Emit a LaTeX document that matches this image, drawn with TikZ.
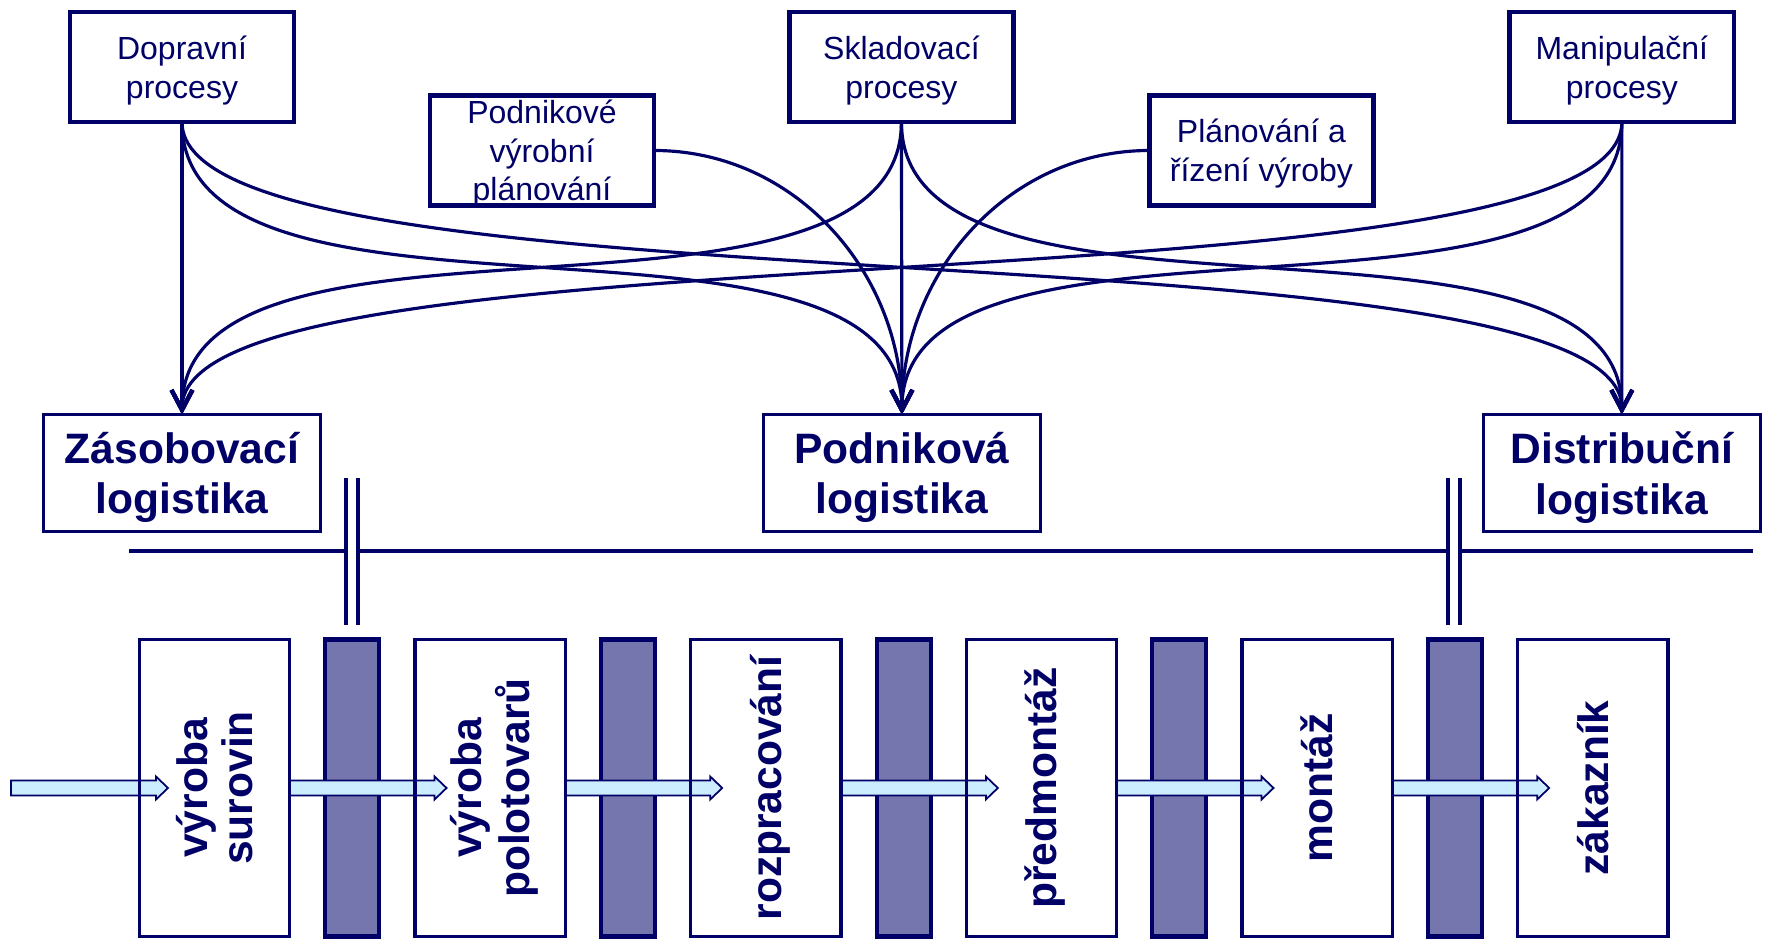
\documentclass[tikz,border=0pt]{standalone}
\usepackage{fontspec}
\setmainfont{Liberation Sans}
\usetikzlibrary{positioning,arrows.meta,backgrounds}
\definecolor{navy}{RGB}{0,0,102}
\definecolor{flowblue}{RGB}{204,236,255}
\definecolor{stockgrey}{RGB}{118,118,174}
\newcommand{\vlabel}[1]{\rotatebox{90}{\raisebox{0pt}[\dimexpr\height+3.6pt\relax][\depth]{\begin{tabular}{@{}c@{}}#1\end{tabular}}}}
\newcommand{\bandarrow}[1]{\draw[bandarrow] (#1) ++(0,-7.5) -- ++(145,0) -- ++(0,-4) -- ++(12,11.5) -- ++(-12,11.5) -- ++(0,-4) -- ++(-145,0) -- cycle;}

\begin{document}
\begin{tikzpicture}[x=0.01cm,y=-0.01cm,
    topbox/.style={draw=navy,line width=1.35pt,minimum width=2.24cm,minimum height=1.10cm,inner sep=0pt,outer sep=0pt,align=center,text=navy,text depth=0pt,font=\fontsize{9.1}{11}\selectfont},
    logbox/.style={draw=navy,line width=1pt,minimum width=2.77cm,minimum height=1.17cm,inner sep=0pt,outer sep=0pt,align=center,text=navy,text depth=0pt,font=\fontsize{12.1}{14.4}\selectfont\bfseries},
    stagebox/.style={draw=navy,line width=0.95pt,minimum width=1.50cm,minimum height=2.97cm,inner sep=0pt,outer sep=0pt,text=navy,font=\fontsize{12.1}{12.8}\selectfont\bfseries},
    stockbox/.style={draw=navy,fill=stockgrey,line width=1.2pt,minimum width=0.54cm,minimum height=2.97cm,inner sep=0pt,outer sep=0pt},
    flow/.style={navy,line width=0.9pt,-{Straight Barb[length=2mm,width=2.1mm,line width=1.2pt]}},
    sepline/.style={navy,line width=1pt},
    bandarrow/.style={draw=navy,fill=flowblue,line width=0.5pt}]
        \useasboundingbox (0,0) rectangle (1770,940);
        % procesy
        \node[topbox] (dop) at (182,67) {Dopravní\\procesy};
        \node[topbox,right=4.95cm of dop] (skl) {Skladovací\\procesy};
        \node[topbox,right=4.96cm of skl] (man) {Manipulační\\procesy};
        \node[topbox] (pvp) at (542,150.5) {Podnikové\\výrobní\\plánování};
        \node[topbox,right=4.95cm of pvp] (prv) {Plánování a\\řízení výroby};
        % logistika
        \node[logbox] (zas) at (182,473) {Zásobovací\\logistika};
        \node[logbox,right=4.425cm of zas] (pod) {Podniková\\logistika};
        \node[logbox,right=4.425cm of pod] (dis) {Distribuční\\logistika};
        \draw[flow] (dop.south) -- (zas.north);
        \draw[flow] (dop.south) .. controls +(0,240) and +(0,-240) .. (pod.north);
        \draw[flow] (dop.south) .. controls +(0,200) and +(0,-200) .. (dis.north);
        \draw[flow] (skl.south) .. controls +(0,240) and +(0,-240) .. (zas.north);
        \draw[flow] (skl.south) -- (pod.north);
        \draw[flow] (skl.south) .. controls +(0,240) and +(0,-240) .. (dis.north);
        \draw[flow] (man.south) .. controls +(0,200) and +(0,-200) .. (zas.north);
        \draw[flow] (man.south) .. controls +(0,240) and +(0,-240) .. (pod.north);
        \draw[flow] (man.south) -- (dis.north);
        \draw[flow] (pvp.east) to[out=0,in=90] (pod.north);
        \draw[flow] (prv.west) to[out=180,in=90] (pod.north);
        % hranice
        \draw[sepline] (129,551) -- (346,551) (358,551) -- (1448,551) (1460,551) -- (1753,551);
        \draw[sepline,line width=1.2pt] (346,478) -- (346,625) (358,478) -- (358,625)
            (1448,478) -- (1448,625) (1460,478) -- (1460,625);
        % retezec
        \node[stagebox] (s1) at (214.5,788) {\vlabel{výroba\\surovin}};
        \node[stagebox,right=1.255cm of s1] (s2) {\vlabel{výroba\\polotovarů}};
        \node[stagebox,right=1.255cm of s2] (s3) {\vlabel{rozpracování}};
        \node[stagebox,right=1.255cm of s3] (s4) {\vlabel{předmontáž}};
        \node[stagebox,right=1.255cm of s4] (s5) {\vlabel{montáž}};
        \node[stagebox,right=1.255cm of s5] (s6) {\vlabel{zákazník}};
        \coordinate (in) at (11,788);
        \begin{scope}[on background layer]
            \node[stockbox,right=0.3575cm of s1] (z1) {};
            \node[stockbox,right=0.3575cm of s2] (z2) {};
            \node[stockbox,right=0.3575cm of s3] (z3) {};
            \node[stockbox,right=0.3575cm of s4] (z4) {};
            \node[stockbox,right=0.3575cm of s5] (z5) {};
            \bandarrow{in}
            \bandarrow{s1.east}
            \bandarrow{s2.east}
            \bandarrow{s3.east}
            \bandarrow{s4.east}
            \bandarrow{s5.east}
        \end{scope}
    \end{tikzpicture}
\end{document}
